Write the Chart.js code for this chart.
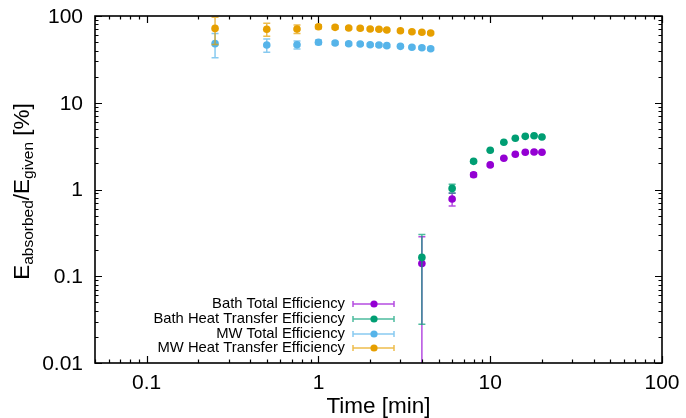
<!DOCTYPE html>
<html>
<head>
<meta charset="utf-8">
<script src="https://cdn.jsdelivr.net/npm/chart.js@4/dist/chart.umd.min.js"></script>
<style>
  html, body { margin:0; padding:0; background:#fff; }
  #wrap { width:686px; height:418px; }
</style>
</head>
<body>
<div id="wrap"><canvas id="chart" width="686" height="418"></canvas></div>
<script>
/* microwave runs: time [min], efficiency [%] and its error */
const mwTime        = [0.25, 0.5, 0.75, 1, 1.25, 1.5, 1.75, 2, 2.25, 2.5, 3, 3.5, 4, 4.5];
const mwTotal       = [48, 46.3, 46.6, 49.8, 48.8, 47.9, 47.6, 46.6, 46.3, 45.5, 44.7, 43.6, 43.1, 42.0];
const mwTotalErr    = [15, 8, 5, 3, 2, 2, 1.5, 1.5, 1.5, 1.5, 1.5, 1.5, 1.5, 1.5];
const mwHeat        = [72, 70.3, 70.8, 75.3, 74, 72.8, 72.1, 70.8, 70.3, 69, 67.7, 65.9, 64.9, 63.7];
const mwHeatErr     = [25, 12, 8, 4, 3, 2.5, 2.5, 2, 2, 2, 2, 2, 2, 2];

/* bath runs */
const bathTime      = [4, 6, 8, 10, 12, 14, 16, 18, 20];
const bathTotal     = [0.140, 0.777, 1.48, 1.92, 2.29, 2.55, 2.69, 2.71, 2.69];
const bathTotalErr  = [0.145, 0.13, 0.08, 0.05, 0.05, 0.05, 0.05, 0.05, 0.05];
const bathHeat      = [0.165, 1.03, 2.11, 2.83, 3.50, 3.89, 4.10, 4.17, 4.03];
const bathHeatErr   = [0.137, 0.12, 0.07, 0.06, 0.06, 0.06, 0.06, 0.06, 0.06];

const seriesNames   = ["Bath Total Efficiency", "Bath Heat Transfer Efficiency",
                       "MW Total Efficiency", "MW Heat Transfer Efficiency"];
const seriesColors  = ["#9400d3", "#009e73", "#56b4e9", "#e69f00"];

/* axis ticks */
const xTicks      = [0.1, 1, 10, 100];
const xTickLabels = ["0.1", "1", "10", "100"];
const yTicks      = [0.01, 0.1, 1, 10, 100];
const yTickLabels = ["0.01", "0.1", "1", "10", "100"];

const FONT = '"Liberation Sans", Arial, Helvetica, sans-serif';

function points (xs, ys, es) {
    return xs.map((x, i) => ({ x: x, y: ys[i], err: es[i] }));
}

function fade (hex, a) {
    const n = parseInt(hex.slice(1), 16);
    return "rgba(" + (n >> 16) + "," + ((n >> 8) & 255) + "," + (n & 255) + "," + a + ")";
}

/* vertical error bars with caps, drawn just under each dataset's points */
const errorBars = {
    id: "errorBars",
    beforeDatasetDraw (chart, args) {
        const ds   = chart.data.datasets[args.index];
        const xs   = chart.scales.x, ys = chart.scales.y;
        const area = chart.chartArea;
        const ctx  = chart.ctx;
        ctx.save();
        ctx.beginPath();
        ctx.rect(area.left, area.top, area.right - area.left, area.bottom - area.top);
        ctx.clip();
        ctx.strokeStyle = fade(ds.backgroundColor, 0.7);
        ctx.lineWidth = 1.5;
        for (const p of ds.data) {
            const px = xs.getPixelForValue(p.x);
            const hi = ys.getPixelForValue(p.y + p.err);
            const lo = (p.y - p.err > 0) ? ys.getPixelForValue(p.y - p.err) : area.bottom + 10;
            ctx.beginPath();
            ctx.moveTo(px, hi); ctx.lineTo(px, lo);
            ctx.moveTo(px - 3.5, hi); ctx.lineTo(px + 3.5, hi);
            ctx.moveTo(px - 3.5, lo); ctx.lineTo(px + 3.5, lo);
            ctx.stroke();
        }
        ctx.restore();
    }
};

/* gnuplot-like frame: border, inward ticks on all sides, labels, titles, key */
const frame = {
    id: "frame",
    afterDraw (chart) {
        const ctx  = chart.ctx;
        const a    = chart.chartArea;
        const xs   = chart.scales.x, ys = chart.scales.y;
        ctx.save();
        ctx.strokeStyle = "#000";
        ctx.lineWidth = 1.2;

        // minor + major ticks
        const xMinor = [], yMinor = [];
        for (let d = 0.01; d < 200; d *= 10) {
            for (let k = 2; k <= 9; k++) {
                const v = +(d * k).toPrecision(3);
                if (v >= xs.min && v <= xs.max) xMinor.push(v);
                if (v >= ys.min && v <= ys.max) yMinor.push(v);
            }
        }
        ctx.beginPath();
        for (const v of xMinor.concat(xTicks)) {
            const len = xTicks.includes(v) ? 7 : 3.5;
            const px = Math.round(xs.getPixelForValue(v)) + 0.5;
            ctx.moveTo(px, a.bottom); ctx.lineTo(px, a.bottom - len);
            ctx.moveTo(px, a.top);    ctx.lineTo(px, a.top + len);
        }
        for (const v of yMinor.concat(yTicks)) {
            const len = yTicks.includes(v) ? 7 : 3.5;
            const py = Math.round(ys.getPixelForValue(v)) + 0.5;
            ctx.moveTo(a.left, py);  ctx.lineTo(a.left + len, py);
            ctx.moveTo(a.right, py); ctx.lineTo(a.right - len, py);
        }
        ctx.stroke();

        ctx.lineWidth = 1.6;
        ctx.strokeRect(a.left, a.top, a.right - a.left, a.bottom - a.top);

        // tick labels
        ctx.fillStyle = "#000";
        ctx.font = "21px " + FONT;
        ctx.textAlign = "center";
        ctx.textBaseline = "middle";
        xTicks.forEach((v, i) => ctx.fillText(xTickLabels[i], xs.getPixelForValue(v), a.bottom + 20));
        ctx.textAlign = "right";
        yTicks.forEach((v, i) => ctx.fillText(yTickLabels[i], a.left - 12, ys.getPixelForValue(v) + 1));

        // axis titles
        ctx.font = "22.5px " + FONT;
        ctx.textAlign = "center";
        ctx.fillText("Time [min]", (a.left + a.right) / 2, a.bottom + 44);

        const parts = [
            ["E", 22.5, 0], ["absorbed", 15.5, 5.5], ["/E", 22.5, 0], ["given", 15.5, 5.5], [" [%]", 22.5, 0]
        ];
        let total = 0;
        for (const p of parts) { ctx.font = p[1] + "px " + FONT; total += ctx.measureText(p[0]).width; }
        ctx.translate(23, (a.top + a.bottom) / 2 + 2);
        ctx.rotate(-Math.PI / 2);
        ctx.textAlign = "left";
        let cx = -total / 2;
        for (const p of parts) {
            ctx.font = p[1] + "px " + FONT;
            ctx.fillText(p[0], cx, p[2]);
            cx += ctx.measureText(p[0]).width;
        }
        ctx.setTransform(1, 0, 0, 1, 0, 0);

        // key
        ctx.font = "14.8px " + FONT;
        ctx.textAlign = "right";
        const keyY = [304, 319, 334, 348];
        seriesNames.forEach((name, i) => {
            const y = keyY[i];
            ctx.fillStyle = "#000";
            ctx.fillText(name, 345, y);
            ctx.strokeStyle = fade(seriesColors[i], 0.7);
            ctx.lineWidth = 1.5;
            ctx.beginPath();
            ctx.moveTo(353, y); ctx.lineTo(394, y);
            ctx.moveTo(353, y - 3); ctx.lineTo(353, y + 3);
            ctx.moveTo(394, y - 3); ctx.lineTo(394, y + 3);
            ctx.stroke();
            ctx.fillStyle = seriesColors[i];
            ctx.beginPath();
            ctx.arc(374, y, 3.6, 0, Math.PI * 2);
            ctx.fill();
        });
        ctx.restore();
    }
};

const datasets = [
    { label: seriesNames[0], data: points(bathTime, bathTotal, bathTotalErr), order: 4 },
    { label: seriesNames[1], data: points(bathTime, bathHeat,  bathHeatErr),  order: 3 },
    { label: seriesNames[2], data: points(mwTime,   mwTotal,   mwTotalErr),   order: 2 },
    { label: seriesNames[3], data: points(mwTime,   mwHeat,    mwHeatErr),    order: 1 }
].map((d, i) => Object.assign(d, {
    backgroundColor: seriesColors[i],
    borderWidth: 0,
    pointRadius: 3.8
}));

new Chart(document.getElementById("chart").getContext("2d"), {
    type: "scatter",
    data: { datasets: datasets },
    options: {
        responsive: false,
        animation: false,
        layout: { padding: { left: 95, right: 24, top: 16, bottom: 55 } },
        scales: {
            x: { type: "logarithmic", min: 0.05, max: 100, display: false },
            y: { type: "logarithmic", min: 0.01, max: 100, display: false }
        },
        plugins: { legend: { display: false }, tooltip: { enabled: false } }
    },
    plugins: [errorBars, frame]
});
</script>
</body>
</html>
